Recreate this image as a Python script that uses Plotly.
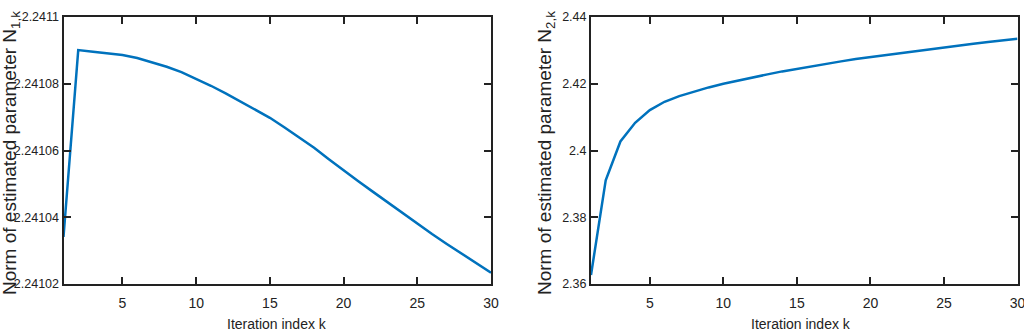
import plotly.graph_objects as go

k = list(range(1, 31))

n1 = [2.2410341, 2.2410901, 2.2410896, 2.2410892, 2.2410886, 2.2410877, 2.2410865,
      2.2410851, 2.2410835, 2.2410815, 2.2410794, 2.2410771, 2.2410746, 2.2410722,
      2.2410698, 2.2410669, 2.2410639, 2.2410608, 2.2410574, 2.2410540, 2.2410508,
      2.2410476, 2.2410444, 2.2410412, 2.2410380, 2.2410350, 2.2410320, 2.2410291,
      2.2410262, 2.2410234]

n2 = [2.3627, 2.3911, 2.4027, 2.4083, 2.4121, 2.4146, 2.4163, 2.4177, 2.4189, 2.4200,
      2.4210, 2.4219, 2.4228, 2.4237, 2.4245, 2.4253, 2.4260, 2.4267, 2.4274, 2.4280,
      2.4286, 2.4292, 2.4298, 2.4304, 2.4310, 2.4315, 2.4320, 2.4325, 2.4330, 2.4335]

x_ticks = [5, 10, 15, 20, 25, 30]
y1_ticks = [2.24102, 2.24104, 2.24106, 2.24108, 2.2411]
y1_text = ["2.24102", "2.24104", "2.24106", "2.24108", "2.2411"]
y2_ticks = [2.36, 2.38, 2.40, 2.42, 2.44]
y2_text = ["2.36", "2.38", "2.4", "2.42", "2.44"]

x_title = "Iteration index k"
y1_title = "Norm of estimated parameter N<sub>1,k</sub>"
y2_title = "Norm of estimated parameter N<sub>2,k</sub>"

LINE = "#0072BD"
INK = "#222222"
FONT = "Liberation Sans, Arial, sans-serif"

fig = go.Figure()
fig.add_trace(go.Scatter(x=k, y=n1, mode="lines", line=dict(color=LINE, width=2.5),
                         xaxis="x", yaxis="y", showlegend=False))
fig.add_trace(go.Scatter(x=k, y=n2, mode="lines", line=dict(color=LINE, width=2.5),
                         xaxis="x2", yaxis="y2", showlegend=False))

W, H = 1024, 332
T, B = 17, 48
axis_common = dict(showline=True, linecolor=INK, linewidth=2, mirror="ticks",
                   ticks="inside", ticklen=7, tickwidth=2, tickcolor=INK,
                   showgrid=False, zeroline=False, automargin=False,
                   ticklabeloverflow="allow")
xfont = dict(family=FONT, size=14, color=INK)
yfont = dict(family=FONT, size=12.5, color=INK)

fig.update_layout(
    width=W, height=H,
    margin=dict(l=0, r=0, t=T, b=B),
    plot_bgcolor="white", paper_bgcolor="white",
    xaxis=dict(domain=[63.5 / W, 491 / W], range=[1, 30], tickvals=x_ticks,
               anchor="y", tickfont=xfont, ticklabelstandoff=5, **axis_common),
    yaxis=dict(domain=[0, 1], range=[2.24102, 2.2411], tickvals=y1_ticks, ticktext=y1_text,
               anchor="x", tickfont=yfont, **axis_common),
    xaxis2=dict(domain=[591 / W, 1017.5 / W], range=[1, 30], tickvals=x_ticks,
                anchor="y2", tickfont=xfont, ticklabelstandoff=5, **axis_common),
    yaxis2=dict(domain=[0, 1], range=[2.36, 2.44], tickvals=y2_ticks, ticktext=y2_text,
                anchor="x2", tickfont=yfont, **axis_common),
)

def px_x(p):
    return p / W

def px_y(p):
    return (H - B - p) / (H - T - B)

for cx, txt in [(276.5, x_title), (801, x_title)]:
    fig.add_annotation(text=txt, xref="paper", yref="paper", x=px_x(cx), y=px_y(324),
                       xanchor="center", yanchor="middle", showarrow=False,
                       font=dict(family=FONT, size=14, color=INK))

for cx, txt in [(11, y1_title), (546, y2_title)]:
    fig.add_annotation(text=txt, xref="paper", yref="paper", x=px_x(cx), y=px_y(153),
                       xanchor="center", yanchor="middle", showarrow=False, textangle=-90,
                       font=dict(family=FONT, size=19, color=INK))

fig.write_html("out.html", config={"displayModeBar": False},
               post_script="document.body.style.margin='0';document.body.style.padding='0';")
